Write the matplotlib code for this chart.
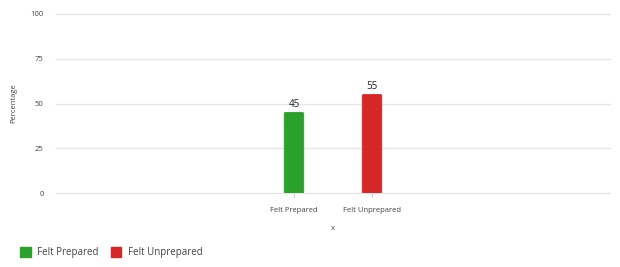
import matplotlib
matplotlib.use("Agg")
import matplotlib.pyplot as plt
from matplotlib.patches import FancyBboxPatch, Patch

categories = ["Felt Prepared", "Felt Unprepared"]
values = [45, 55]
colors = ["#2ca02c", "#d62728"]
yticks = [0, 25, 50, 75, 100]

plt.rcParams['font.family'] = ['Open Sans', 'DejaVu Sans']

fig = plt.figure(figsize=(6.2, 2.67), dpi=100)
ax = fig.add_axes([56/620, 1-193/267, (610-56)/620, (193-14)/267])

x = list(range(len(categories)))
bars = ax.bar(x, values, width=0.25, color=colors)
ax.set_xlim(-3.05, 4.05)
ax.set_ylim(0, 100)

for rect, c, v in zip(bars, colors, values):
    rx, ry, rw, rh = rect.get_x(), rect.get_y(), rect.get_width(), rect.get_height()
    rect.set_visible(False)
    p = FancyBboxPatch((rx, ry), rw, rh,
                       boxstyle="round,pad=0,rounding_size=0.018",
                       mutation_aspect=43, facecolor=c, edgecolor=c,
                       linewidth=0.6, zorder=3)
    ax.add_patch(p)
    ax.text(rx + rw/2, ry + rh + 1.5, f"{v}", ha="center", va="bottom",
            fontsize=7, color="#222222")

ax.set_yticks(yticks)
ax.set_yticklabels([str(t) for t in yticks], fontsize=5.5, color="#444444")
ax.set_xticks(x)
ax.set_xticklabels(categories, fontsize=5.5, color="#444444")
ax.tick_params(axis='y', length=0, pad=9)
ax.tick_params(axis='x', length=3, color="#cccccc", pad=7)
ax.grid(axis='y', color="#e6e6e6", linewidth=1)
for gl in ax.get_ygridlines():
    gl.set_clip_on(False)
ax.set_axisbelow(True)
for s in ax.spines.values():
    s.set_visible(False)

ax.set_ylabel("Percentage", fontsize=5.5, color="#444444", labelpad=9)
ax.set_xlabel("x", fontsize=5.5, color="#444444", labelpad=8)

handles = [Patch(facecolor=c, edgecolor=c) for c in colors]
fig.legend(handles, categories, loc="lower left", bbox_to_anchor=(0.018, 0.0),
           ncol=2, frameon=False, fontsize=7, handlelength=1.1, handleheight=1.1,
           columnspacing=1.2, handletextpad=0.7, labelcolor="#444444")

fig.savefig("out.png", dpi=100)
